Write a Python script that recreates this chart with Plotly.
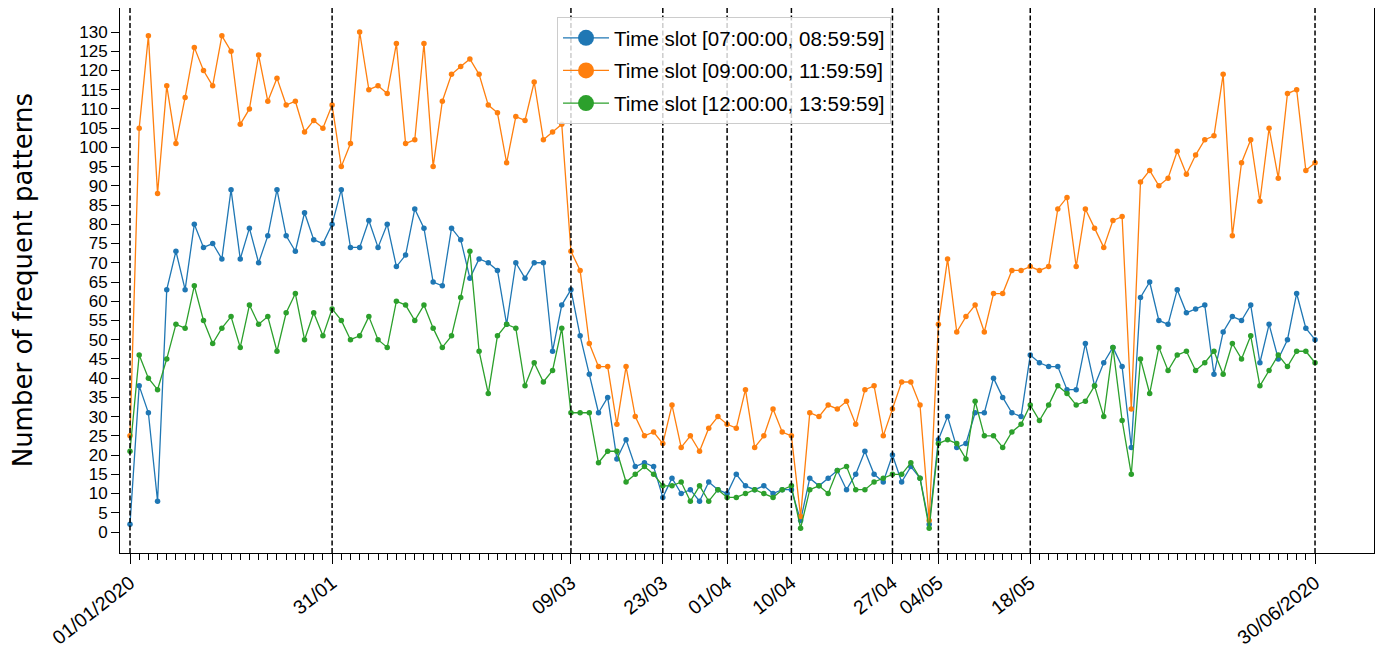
import plotly.graph_objects as go
import pandas as pd

# weekday dates 01/01/2020 .. 30/06/2020
dates = pd.bdate_range("2020-01-01", "2020-06-30")
date_labels = [d.strftime("%d/%m/%Y") for d in dates]

major_dates = ["01/01/2020", "31/01/2020", "09/03/2020", "23/03/2020", "01/04/2020",
               "10/04/2020", "27/04/2020", "04/05/2020", "18/05/2020", "30/06/2020"]
major_text = ["01/01/2020", "31/01", "09/03", "23/03", "01/04",
              "10/04", "27/04", "04/05", "18/05", "30/06/2020"]
y_ticks = list(range(0, 131, 5))

slot_07_09 = [2, 38, 31, 8, 63, 73, 63, 80, 74, 75, 71,
              89, 71, 79, 70, 77, 89, 77, 73, 83, 76, 75,
              80, 89, 74, 74, 81, 74, 80, 69, 72, 84, 79,
              65, 64, 79, 76, 66, 71, 70, 68, 54, 70, 66,
              70, 70, 47, 59, 63, 51, 41, 31, 35, 19,
              24, 17, 18, 17, 9, 14, 10, 11, 8, 13, 11,
              10, 15, 12, 11, 12, 10, 11, 11, 3, 14, 12,
              14, 16, 11, 15, 21, 15, 13, 20, 13, 17, 14,
              2, 24, 30, 22, 23, 31, 31, 40, 35, 31, 30,
              46, 44, 43, 43, 37, 37, 49, 38, 44, 48, 43,
              22, 61, 65, 55, 54, 63, 57, 58, 59, 41, 52,
              56, 55, 59, 44, 54, 45, 50, 62, 53, 50]

slot_09_12 = [25, 105, 129, 88, 116, 101, 113, 126, 120, 116, 129,
              125, 106, 110, 124, 112, 118, 111, 112, 104, 107, 105,
              111, 95, 101, 130, 115, 116, 114, 127, 101, 102, 127,
              95, 112, 119, 121, 123, 119, 111, 109, 96, 108, 107,
              117, 102, 104, 106, 73, 68, 49, 43, 43, 28,
              43, 30, 25, 26, 23, 33, 22, 25, 21, 27, 30,
              28, 27, 37, 22, 25, 32, 26, 25, 4, 31, 30,
              33, 32, 34, 28, 37, 38, 25, 32, 39, 39, 33,
              3, 54, 71, 52, 56, 59, 52, 62, 62, 68, 68,
              69, 68, 69, 84, 87, 69, 84, 79, 74, 81, 82,
              32, 91, 94, 90, 92, 99, 93, 98, 102, 103, 119,
              77, 96, 102, 86, 105, 92, 114, 115, 94, 96]

slot_12_14 = [21, 46, 40, 37, 45, 54, 53, 64, 55, 49, 53,
              56, 48, 59, 54, 56, 47, 57, 62, 50, 57, 51,
              58, 55, 50, 51, 56, 50, 48, 60, 59, 55, 59,
              53, 48, 51, 61, 73, 47, 36, 51, 54, 53, 38,
              44, 39, 42, 53, 31, 31, 31, 18, 21, 21,
              13, 15, 17, 15, 12, 12, 13, 8, 12, 8, 11,
              9, 9, 10, 11, 10, 9, 11, 12, 1, 11, 12,
              10, 16, 17, 11, 11, 13, 14, 15, 15, 18, 14,
              1, 23, 24, 23, 19, 34, 25, 25, 22, 26, 28,
              33, 29, 33, 38, 36, 33, 34, 38, 30, 48, 29,
              15, 45, 36, 48, 42, 46, 47, 42, 44, 47, 41,
              49, 45, 51, 38, 42, 46, 43, 47, 47, 44]

series_names = ["Time slot [07:00:00, 08:59:59]",
                "Time slot [09:00:00, 11:59:59]",
                "Time slot [12:00:00, 13:59:59]"]
series_values = [slot_07_09, slot_09_12, slot_12_14]
colors = ["#1f77b4", "#ff7f0e", "#2ca02c"]

x_idx = list(range(len(dates)))
major_idx = [date_labels.index(d) for d in major_dates]

FONT = "Liberation Sans, Arial, sans-serif"

fig = go.Figure()
for name, vals, col in zip(series_names, series_values, colors):
    fig.add_trace(go.Scatter(
        x=x_idx, y=vals, mode="lines+markers", name=name,
        line=dict(color=col, width=1.3),
        marker=dict(color=col, size=5.5),
        showlegend=False,
        customdata=date_labels,
    ))
# legend entries with large markers
for k, (name, col) in enumerate(zip(series_names, colors)):
    fig.add_trace(go.Scatter(
        x=[None], y=[None], mode="lines+markers", name=name,
        legendgroup=f"g{k}",
        line=dict(color=col, width=1.3),
        marker=dict(color=col, size=16),
    ))

for xi in major_idx:
    fig.add_shape(type="line", xref="x", yref="paper", x0=xi, x1=xi, y0=0, y1=1,
                  line=dict(color="black", width=1.5, dash="5px,2.5px"))

fig.add_annotation(
    text="Number of frequent patterns", textangle=-90,
    xref="paper", yref="paper", x=-0.0775, y=0.5,
    xanchor="center", yanchor="middle", showarrow=False,
    font=dict(size=26, family="DejaVu Sans, sans-serif", color="black"),
)

fig.update_layout(
    width=1386, height=648,
    margin=dict(l=112, r=20, t=0, b=103),
    paper_bgcolor="white", plot_bgcolor="white",
    font=dict(family=FONT, color="black"),
    showlegend=True,
    legend=dict(
        x=0.3485, y=0.9835, xanchor="left", yanchor="top",
        bgcolor="rgba(255,255,255,0.8)", bordercolor="#cccccc", borderwidth=1,
        font=dict(size=20.5, family=FONT),
        tracegroupgap=3, itemwidth=46,
    ),
)
fig.update_xaxes(
    range=[-1.089, 135.42], automargin=False,
    tickmode="array", tickvals=major_idx, ticktext=major_text,
    tickangle=-38, tickfont=dict(size=19.5, family=FONT),
    ticks="outside", ticklen=10, tickwidth=1.2, tickcolor="black",
    minor=dict(tickmode="array", tickvals=x_idx, ticks="outside",
               ticklen=6, tickwidth=1, tickcolor="black", showgrid=False),
    showline=True, linecolor="black", linewidth=1, mirror=True,
    showgrid=False, zeroline=False,
)
fig.update_yaxes(
    range=[-5.46, 136.24], automargin=False,
    tickmode="array", tickvals=y_ticks,
    tickfont=dict(size=17, family=FONT),
    ticks="outside", ticklen=8, tickwidth=1.2, tickcolor="black",
    showline=True, linecolor="black", linewidth=1, mirror=True,
    showgrid=False, zeroline=False,
)

fig.write_html("out.html")
